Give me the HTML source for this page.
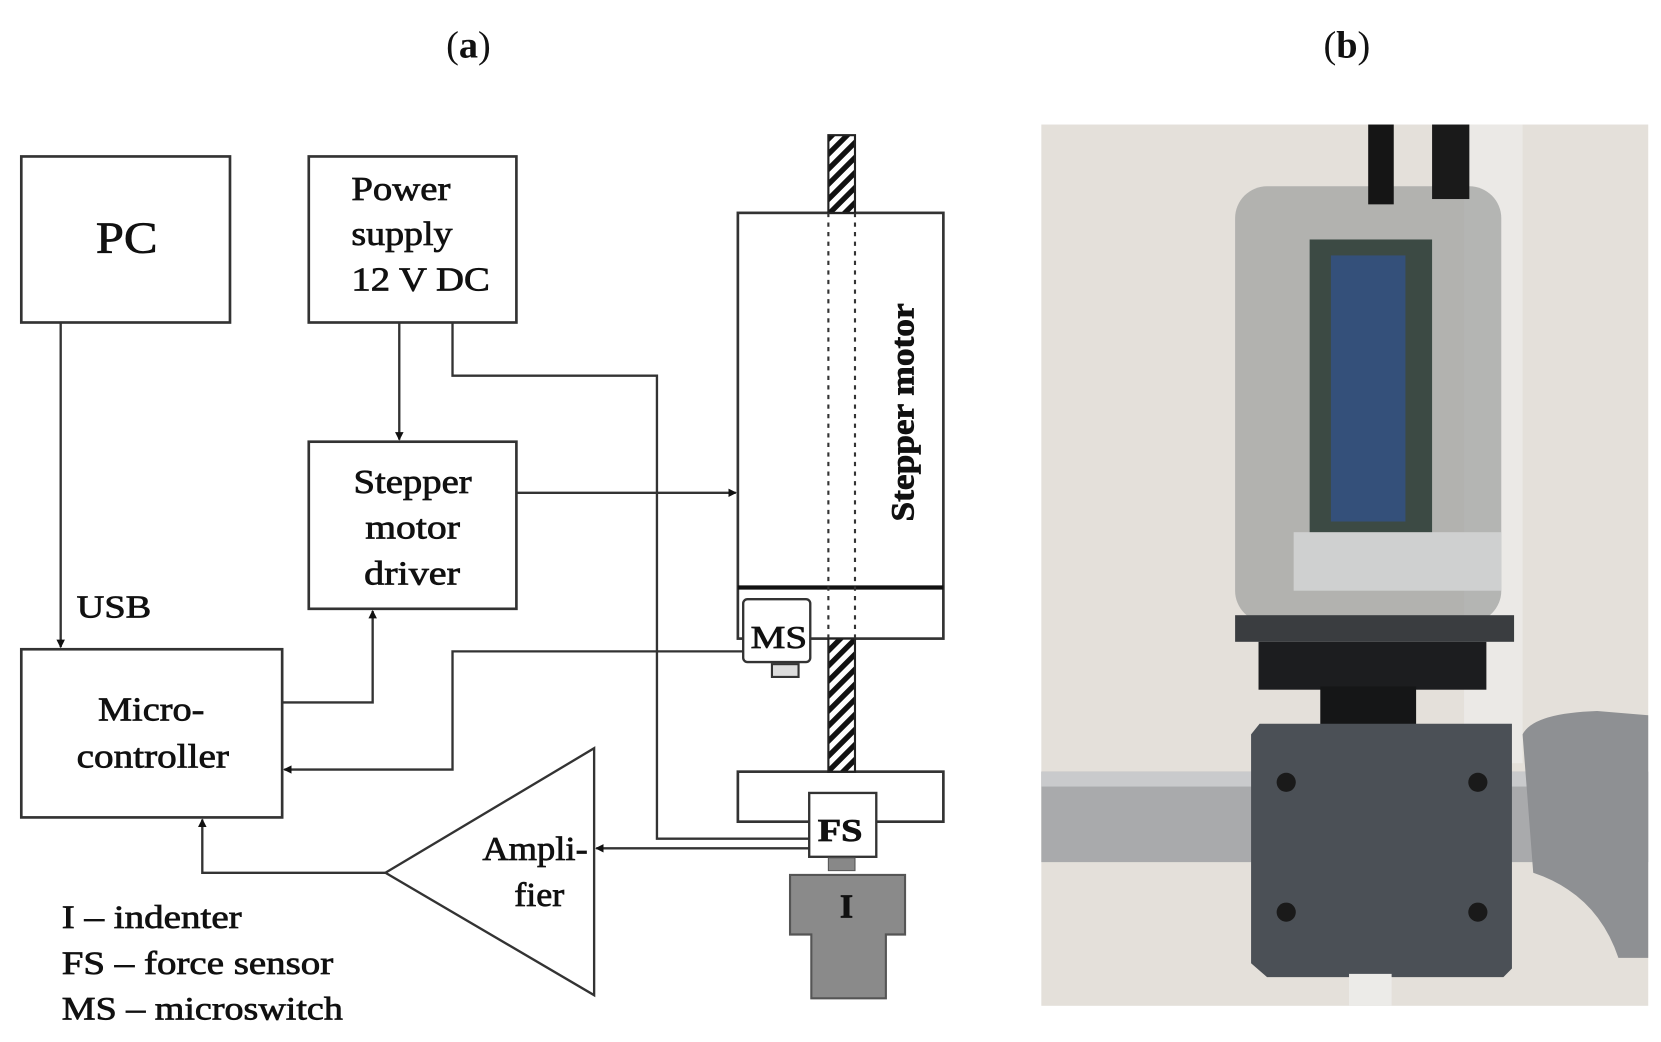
<!DOCTYPE html>
<html><head><meta charset="utf-8"><style>
html,body{margin:0;padding:0;background:#fff;}
svg{display:block;}
text{font-family:"Liberation Serif",serif;fill:#111;}
.t{stroke:#111;stroke-width:0.7;}
</style></head><body>
<svg width="1661" height="1042" viewBox="0 0 1560 979" preserveAspectRatio="none">
<defs>
<pattern id="h" width="10" height="10" patternUnits="userSpaceOnUse" patternTransform="rotate(45)">
<rect width="10" height="10" fill="#fff"/><rect width="5" height="10" fill="#111"/></pattern>
<marker id="a" markerWidth="8" markerHeight="8" refX="7" refY="4" orient="auto" markerUnits="userSpaceOnUse"><path d="M0,0 L8,4 L0,8z" fill="#111"/></marker>
</defs>
<text x="440" y="54" font-size="36" text-anchor="middle">(<tspan font-weight="bold">a</tspan>)</text>
<text x="1265" y="54" font-size="36" text-anchor="middle">(<tspan font-weight="bold">b</tspan>)</text>
<g fill="none" stroke="#333" stroke-width="2.5">
<rect x="20" y="147" width="196" height="156"/>
<rect x="290" y="147" width="195" height="156"/>
<rect x="290" y="415" width="195" height="157"/>
<rect x="20" y="610" width="245" height="158"/>
<rect x="693" y="200" width="193" height="400"/>
<rect x="693" y="725" width="193" height="47"/>
</g>
<line x1="693" y1="552" x2="886" y2="552" stroke="#111" stroke-width="4"/>
<rect x="778" y="127" width="25" height="73" fill="url(#h)" stroke="#222" stroke-width="2"/>
<rect x="778" y="600" width="25" height="125" fill="url(#h)" stroke="#222" stroke-width="2"/>
<g stroke="#333" stroke-width="2" stroke-dasharray="4,5"><line x1="778" y1="200" x2="778" y2="600"/><line x1="803" y1="200" x2="803" y2="600"/></g>
<g class="t">
<text x="90" y="237" font-size="42" textLength="58" lengthAdjust="spacingAndGlyphs">PC</text>
<g font-size="32"><text x="330" y="188" textLength="93" lengthAdjust="spacingAndGlyphs">Power</text><text x="330" y="230" textLength="95" lengthAdjust="spacingAndGlyphs">supply</text><text x="330" y="273" textLength="130" lengthAdjust="spacingAndGlyphs">12 V DC</text>
<text x="332" y="463" textLength="111" lengthAdjust="spacingAndGlyphs">Stepper</text><text x="343" y="506" textLength="89" lengthAdjust="spacingAndGlyphs">motor</text><text x="342" y="549" textLength="90" lengthAdjust="spacingAndGlyphs">driver</text>
<text x="92" y="677" textLength="100" lengthAdjust="spacingAndGlyphs">Micro-</text><text x="72" y="721" textLength="143" lengthAdjust="spacingAndGlyphs">controller</text></g>
<text x="72" y="580" font-size="30" textLength="70" lengthAdjust="spacingAndGlyphs">USB</text>
<text transform="translate(858,490) rotate(-90)" font-size="31" font-weight="bold" textLength="205" lengthAdjust="spacingAndGlyphs">Stepper motor</text>
</g>
<g fill="none" stroke="#333" stroke-width="2.2">
<polyline points="57,303 57,608" marker-end="url(#a)"/>
<polyline points="375,303 375,413" marker-end="url(#a)"/>
<polyline points="425,303 425,353 617,353 617,788 760,788"/>
<polyline points="485,463 691,463" marker-end="url(#a)"/>
<polyline points="265,660 350,660 350,574" marker-end="url(#a)"/>
<polyline points="698,612 425,612 425,723 267,723" marker-end="url(#a)"/>
<polyline points="760,797 560,797" marker-end="url(#a)"/>
<polyline points="362,820 190,820 190,770" marker-end="url(#a)"/>
<polygon points="362,820 558,703 558,935"/>
</g>
<rect x="698" y="563" width="63" height="59" rx="4" fill="#fff" stroke="#333" stroke-width="2.2"/>
<rect x="725" y="624" width="25" height="12" fill="#ddd" stroke="#333" stroke-width="2"/>
<rect x="760" y="745" width="63" height="60" fill="#fff" stroke="#333" stroke-width="2.2"/>
<path d="M778,806 h25 v12 h-25z" fill="#888" stroke="#555"/>
<path d="M742,822 H850 V878 H832 V938 H762 V878 H742Z" fill="#8a8a8a" stroke="#555" stroke-width="2"/>
<g class="t">
<text x="705" y="609" font-size="30" textLength="53" lengthAdjust="spacingAndGlyphs">MS</text>
<text x="768" y="790" font-size="30" font-weight="bold" textLength="42" lengthAdjust="spacingAndGlyphs">FS</text>
<text x="795" y="862" font-size="32" text-anchor="middle" font-weight="bold">I</text>
<g font-size="32"><text x="453" y="808" textLength="99" lengthAdjust="spacingAndGlyphs">Ampli-</text><text x="483" y="851" textLength="47" lengthAdjust="spacingAndGlyphs">fier</text></g>
<g font-size="31"><text x="58" y="872" textLength="169" lengthAdjust="spacingAndGlyphs">I – indenter</text><text x="58" y="915" textLength="255" lengthAdjust="spacingAndGlyphs">FS – force sensor</text><text x="58" y="958" textLength="264" lengthAdjust="spacingAndGlyphs">MS – microswitch</text></g>
</g>
<!-- photo -->
<rect x="978" y="117" width="570" height="828" fill="#e4e0da"/>
<rect x="1375" y="117" width="55" height="600" fill="#ebe9e6"/>
<rect x="978" y="725" width="570" height="85" fill="#a9aaac"/>
<rect x="978" y="725" width="570" height="14" fill="#c9cacc"/>
<path d="M1430,690 Q1440,670 1500,668 L1548,672 L1548,900 L1520,900 Q1500,840 1440,820Z" fill="#8e9093"/>
<rect x="1160" y="175" width="250" height="410" rx="30" fill="#9c9e9d" opacity="0.7"/>
<rect x="1230" y="225" width="115" height="290" fill="#3c4a44"/>
<rect x="1250" y="240" width="70" height="250" fill="#34507a"/>
<rect x="1285" y="117" width="24" height="75" fill="#151515"/>
<rect x="1345" y="117" width="35" height="70" fill="#1a1a1a"/>
<rect x="1215" y="500" width="195" height="55" fill="#cfd0d0"/>
<rect x="1160" y="578" width="262" height="25" fill="#3a3d40"/>
<rect x="1182" y="603" width="214" height="45" fill="#1c1d1f"/>
<rect x="1240" y="645" width="90" height="45" fill="#151617"/>
<path d="M1183,680 H1420 V910 L1412,918 H1190 L1175,905 V690Z" fill="#4b5056"/>
<g fill="#1a1a1a"><circle cx="1208" cy="735" r="9"/><circle cx="1388" cy="735" r="9"/><circle cx="1208" cy="857" r="9"/><circle cx="1388" cy="857" r="9"/></g>
<rect x="1267" y="915" width="40" height="30" fill="#ecebe8"/>
</svg>
</body></html>
